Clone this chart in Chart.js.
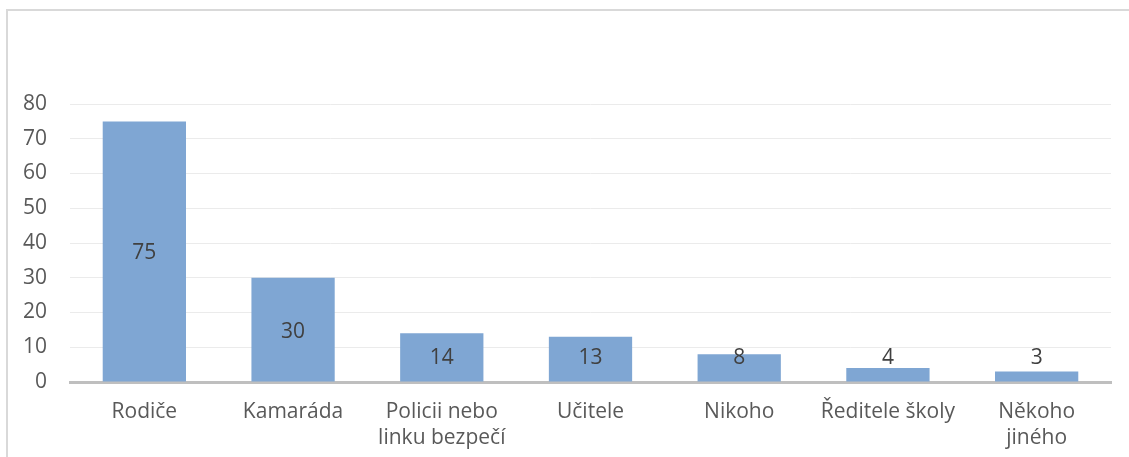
<!DOCTYPE html>
<html>
<head>
<meta charset="utf-8">
<script src="https://cdn.jsdelivr.net/npm/chart.js@4"></script>
<style>
  body { margin: 0; background: #fff; }
  #wrap { position: relative; width: 1129px; height: 457px; }
  /* light frame of the chart box, open at the right and bottom */
  #frame { position: absolute; left: 6px; top: 9px; width: 1140px; height: 470px;
           border-left: 2px solid #d9d9d9; border-top: 2px solid #d9d9d9; }
  canvas { position: absolute; left: 0; top: 0; }
</style>
</head>
<body>
<div id="wrap">
  <div id="frame"></div>
  <canvas id="chart" width="1129" height="457"></canvas>
</div>
<script>
// Categories and values
const categories = [
  "Rodiče",
  "Kamaráda",
  ["Policii nebo", "linku bezpečí"],
  "Učitele",
  "Nikoho",
  "Ředitele školy",
  ["Někoho", "jiného"],
];
const counts = [75, 30, 14, 13, 8, 4, 3];
const yTicks = [0, 10, 20, 30, 40, 50, 60, 70, 80];

const FONT = "'Open Sans', sans-serif";

// Writes the value in the middle of each bar, kept clear of the axis for short bars
const barLabels = {
  id: "barLabels",
  afterDatasetsDraw(chart) {
    const ctx = chart.ctx;
    const meta = chart.getDatasetMeta(0);
    ctx.save();
    ctx.font = "21px " + FONT;
    ctx.fillStyle = "#404040";
    ctx.textAlign = "center";
    ctx.textBaseline = "middle";
    meta.data.forEach((bar, i) => {
      let y = Math.min((bar.y + bar.base) / 2, bar.base - 25) + 2;
      ctx.fillText(String(counts[i]), bar.x, y);
    });
    ctx.restore();
  },
};

let ctx = document.getElementById("chart").getContext("2d");

let chart = new Chart(ctx, {
  type: "bar",
  data: {
    labels: categories,
    datasets: [
      {
        data: counts,
        backgroundColor: "#7fa6d3",
        borderWidth: 0,
        categoryPercentage: 1,
        barPercentage: 0.56,
      },
    ],
  },
  options: {
    responsive: false,
    animation: false,
    layout: { padding: { top: 104, right: 18, left: 0, bottom: 0 } },
    plugins: {
      legend: { display: false },
      tooltip: { enabled: false },
    },
    scales: {
      x: {
        grid: { display: false, drawTicks: false },
        border: { color: "#bfbfbf", width: 3 },
        ticks: {
          color: "#595959",
          font: { family: FONT, size: 21, lineHeight: 1.24 },
          padding: 17,
          maxRotation: 0,
          autoSkip: false,
        },
        afterFit(scale) { scale.height = 75; },
      },
      y: {
        min: 0,
        max: 80,
        afterBuildTicks(scale) {
          scale.ticks = yTicks.map((v) => ({ value: v }));
        },
        grid: { color: "#ebebeb", lineWidth: 1, drawTicks: false },
        border: { display: false },
        ticks: {
          color: "#595959",
          font: { family: FONT, size: 21 },
          padding: 23,
        },
        afterFit(scale) { scale.width = 70; },
      },
    },
  },
  plugins: [barLabels],
});
</script>
</body>
</html>
